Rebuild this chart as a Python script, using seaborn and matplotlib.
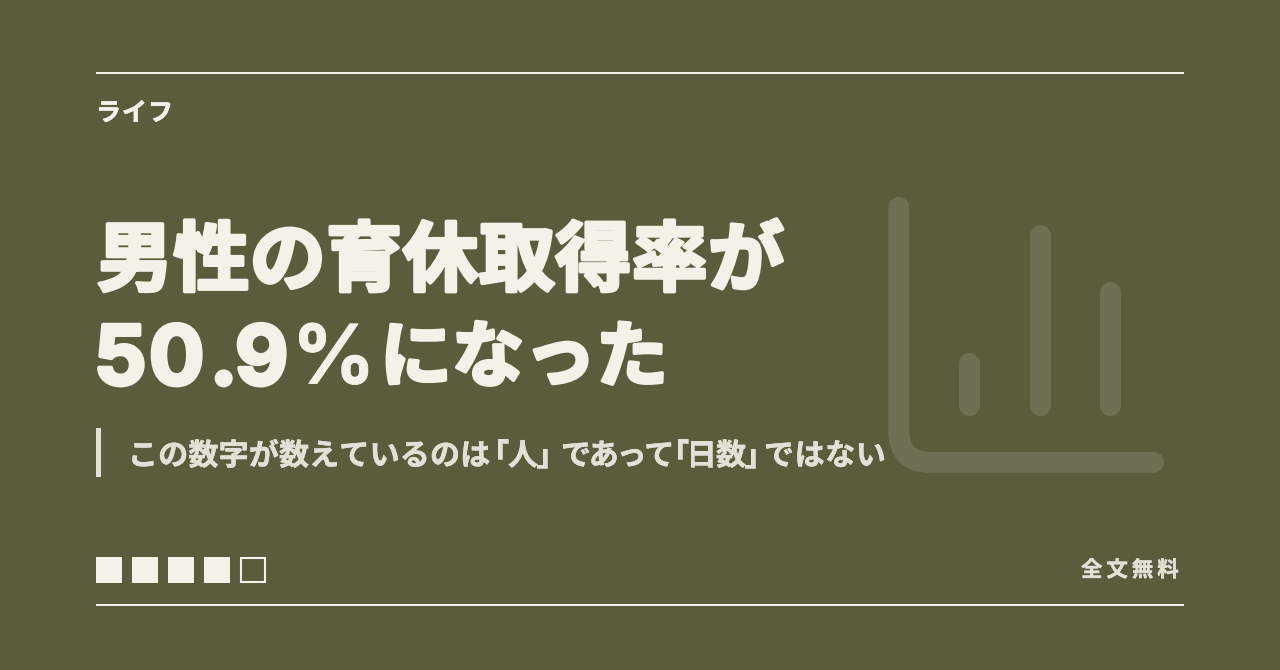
import matplotlib
matplotlib.use('Agg')
import matplotlib.pyplot as plt
import matplotlib.patheffects as pe
from matplotlib.patches import Rectangle, PathPatch
from matplotlib.path import Path
import pandas as pd
import seaborn as sns

# chart values
bar_positions = [1, 2, 3]
bar_values = [42, 170, 113]
square_filled = [1, 1, 1, 1, 0]

category = 'ライフ'
title_first = '男性の育休取得率が'
title_number = '50.9'
title_percent = '%'
title_rest = 'になった'
badge = '全文無料'

BG = '#5c5c3c'
CREAM = '#f5f0e8'
SOFT = '#e3e0d6'
ICON = '#6f6f54'
JP = 'Noto Sans CJK JP'

sns.set_theme(style='white')
plt.rcParams['font.family'] = [JP, 'DejaVu Sans']

W, H = 1280, 670
fig = plt.figure(figsize=(W / 100, H / 100), dpi=100, facecolor=BG)


def px(v):
    # pixels to points
    return v * 72 / 100


# page layer in pixel units for rules and text
page = fig.add_axes([0, 0, 1, 1], zorder=2)
page.set_xlim(0, W)
page.set_ylim(H, 0)
page.axis('off')
page.patch.set_alpha(0)

for y in [73, 605]:
    page.add_patch(Rectangle((96, y - 1), 1088, 2, fc=CREAM, ec='none'))
page.add_patch(Rectangle((96, 428), 5, 49, fc=SOFT, ec='none'))

for i, filled in enumerate(square_filled):
    x = 96 + i * 36
    if filled:
        page.add_patch(Rectangle((x, 557), 26, 26, fc=CREAM, ec='none'))
    else:
        page.add_patch(Rectangle((x + 1, 558), 24, 24, fc='none', ec=CREAM, lw=1.5))


def label(s, x, y, size, color, stroke=0.0, family=JP):
    t = page.text(x, y, s, fontsize=px(size), color=color, fontweight='bold', family=family,
                  ha='left', va='center_baseline')
    if stroke:
        t.set_path_effects([pe.withStroke(linewidth=stroke, foreground=color)])
    return t


def spaced(chars, x, y, size, pitch, color, stroke=0.0):
    for i, c in enumerate(chars):
        label(c, x + i * pitch, y, size, color, stroke)


spaced(category, 96, 111, 25, 26, CREAM, 0.5)
spaced(badge, 1081, 568, 21.5, 25.4, SOFT, 0.3)

# headline, the number is set in a latin face and the kana are packed tighter
spaced(title_first, 97, 254, 76, 76.4, CREAM, 2.6)
for c, x in zip(title_number, [94, 149, 210, 235]):
    label(c, x, 355, 82, CREAM, 3.0, family='Inter')
label(title_percent, 292, 354, 82, CREAM, 0.6, family='Inter')
spaced(title_rest, 380, 352, 72, 72, CREAM, 2.6)

# subtitle placed piece by piece so the brackets close up like the original
spaced('この数字が数えているのは', 128, 453, 30, 30.2, SOFT, 0.4)
label('「', 479, 453, 30, SOFT, 0.4)
label('人', 508, 453, 30, SOFT, 0.4)
label('」', 536, 453, 30, SOFT, 0.4)
spaced('であって', 561, 453, 30, 27.8, SOFT, 0.4)
label('「', 659, 453, 30, SOFT, 0.4)
spaced('日数', 686, 453, 30, 30, SOFT, 0.4)
label('」', 744, 453, 30, SOFT, 0.4)
spaced('ではない', 764, 453, 30, 30.6, SOFT, 0.4)

# chart icon, baseline of the bars sits above the L shaped frame
ax = fig.add_axes([898.75 / W, 1 - 462.3 / H, 254.7 / W, 254.8 / H], zorder=1)
ax.patch.set_alpha(0)
df = pd.DataFrame({
    'x': [p for p in bar_positions for _ in (0, 1)],
    'y': [v for b in bar_values for v in (0, b)],
    'bar': [p for p in bar_positions for _ in (0, 1)],
})
sns.lineplot(data=df, x='x', y='y', units='bar', estimator=None, color=ICON,
             lw=px(21), solid_capstyle='round', ax=ax, clip_on=False)
ax.set_xlim(0.01, 3.61)
ax.set_ylim(-57.8, 197)
ax.axis('off')

# frame with rounded corner, in axes fractions
r = 31.5 / 254.7
frame = Path([(0, 1), (0, r), (0, 0), (r, 0), (1, 0)],
             [Path.MOVETO, Path.LINETO, Path.CURVE3, Path.CURVE3, Path.LINETO])
ax.add_patch(PathPatch(frame, transform=ax.transAxes, fc='none', ec=ICON, lw=px(21),
                       capstyle='round', joinstyle='round', clip_on=False))

fig.savefig('out.png', dpi=100, facecolor=BG)
